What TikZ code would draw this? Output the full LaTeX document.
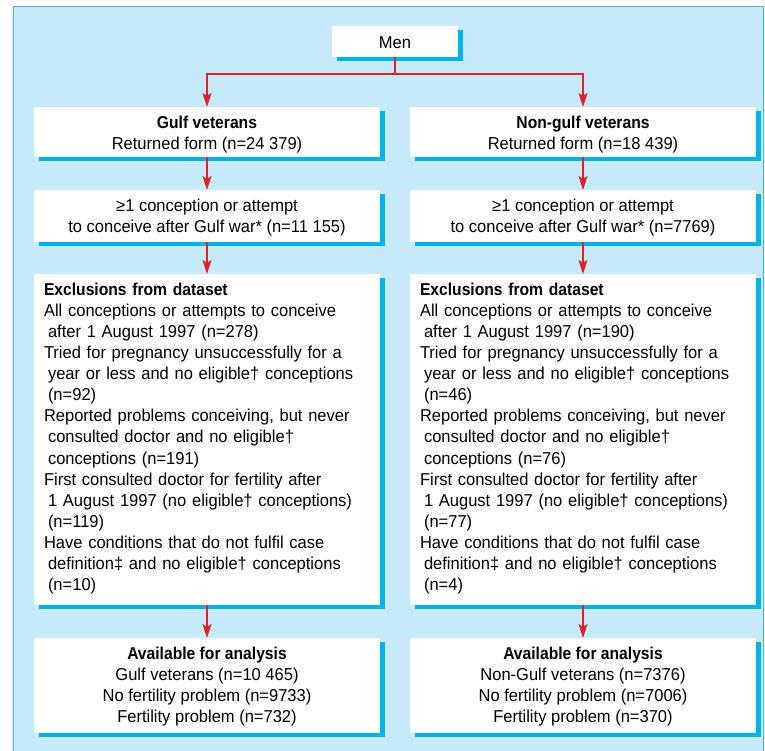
\documentclass[tikz,border=0pt]{standalone}
\usepackage{fontspec}
\setmainfont[FakeStretch=0.96,BoldFeatures={FakeStretch=0.91}]{Liberation Sans}
\usetikzlibrary{arrows.meta,shadows}
\definecolor{bgblue}{HTML}{C6EAF9}
\definecolor{framec}{HTML}{3DB7E9}
\definecolor{shadowc}{HTML}{00B4EB}
\definecolor{arrred}{HTML}{E41E2B}
\newcommand{\firstl}{\rule{0pt}{21pt}}
\newcommand{\lastl}[1]{\rule[-#1pt]{0pt}{#1pt}}
\newcommand{\ind}{\hspace*{4pt}}
\begin{document}
\begin{tikzpicture}[x=1pt,y=-1pt,
  box/.style={fill=white, inner xsep=10pt, inner ysep=0pt, minimum width=346pt,
    font=\fontsize{17.2}{21.1}\selectfont,
    drop shadow={shadow xshift=4.5pt,shadow yshift=-4pt,fill=shadowc,opacity=1}},
  cbox/.style={box, align=center},
  lbox/.style={box, align=left, text width=326pt},
  link/.style={draw=arrred, line width=1.5pt},
  arr/.style={link, -{Stealth[length=14pt,width=9pt,inset=3pt]}}]
\useasboundingbox (0,0) rectangle (765,751);
\fill[bgblue, draw=framec, line width=1pt] (13,7) rectangle (763,770);

\node[cbox, anchor=north, minimum width=126pt] (men) at (395,26) {\rule{0pt}{22pt}Men\lastl{9}};

\node[cbox, anchor=north] (gulf) at (207,107) {\firstl\textbf{Gulf veterans}\\Returned form (n=24~379)\lastl{8}};
\node[cbox, anchor=north] (ngulf) at (583,107) {\firstl\textbf{Non-gulf veterans}\\Returned form (n=18~439)\lastl{8}};

\node[cbox, anchor=north] (concl) at (207,190) {\firstl≥1 conception or attempt\\to conceive after Gulf war* (n=11~155)\lastl{9.3}};
\node[cbox, anchor=north] (concr) at (583,190) {\firstl≥1 conception or attempt\\to conceive after Gulf war* (n=7769)\lastl{9.3}};

\node[lbox, anchor=north] (exl) at (207,274) {\firstl\textbf{Exclusions from dataset}\\
All conceptions or attempts to conceive\\
\ind after 1 August 1997 (n=278)\\
Tried for pregnancy unsuccessfully for a\\
\ind year or less and no eligible† conceptions\\
\ind (n=92)\\
Reported problems conceiving, but never\\
\ind consulted doctor and no eligible†\\
\ind conceptions (n=191)\\
First consulted doctor for fertility after\\
\ind 1 August 1997 (no eligible† conceptions)\\
\ind (n=119)\\
Have conditions that do not fulfil case\\
\ind definition‡ and no eligible† conceptions\\
\ind (n=10)\lastl{14.6}};

\node[lbox, anchor=north] (exr) at (583,274) {\firstl\textbf{Exclusions from dataset}\\
All conceptions or attempts to conceive\\
\ind after 1 August 1997 (n=190)\\
Tried for pregnancy unsuccessfully for a\\
\ind year or less and no eligible† conceptions\\
\ind (n=46)\\
Reported problems conceiving, but never\\
\ind consulted doctor and no eligible†\\
\ind conceptions (n=76)\\
First consulted doctor for fertility after\\
\ind 1 August 1997 (no eligible† conceptions)\\
\ind (n=77)\\
Have conditions that do not fulfil case\\
\ind definition‡ and no eligible† conceptions\\
\ind (n=4)\lastl{14.6}};

\node[cbox, anchor=north] (avl) at (207,638) {\firstl\textbf{Available for analysis}\\Gulf veterans (n=10~465)\\No fertility problem (n=9733)\\Fertility problem (n=732)\lastl{10.3}};
\node[cbox, anchor=north] (avr) at (583,638) {\firstl\textbf{Available for analysis}\\Non-Gulf veterans (n=7376)\\No fertility problem (n=7006)\\Fertility problem (n=370)\lastl{10.3}};

\coordinate (split) at (395,74);
\draw[link] (men.south) -- (split);
\draw[arr] (split) -| (gulf.north);
\draw[arr] (split) -| (ngulf.north);
\draw[arr] (gulf.south) -- (concl.north);
\draw[arr] (ngulf.south) -- (concr.north);
\draw[arr] (concl.south) -- (exl.north);
\draw[arr] (concr.south) -- (exr.north);
\draw[arr] (exl.south) -- (avl.north);
\draw[arr] (exr.south) -- (avr.north);
\end{tikzpicture}
\end{document}
